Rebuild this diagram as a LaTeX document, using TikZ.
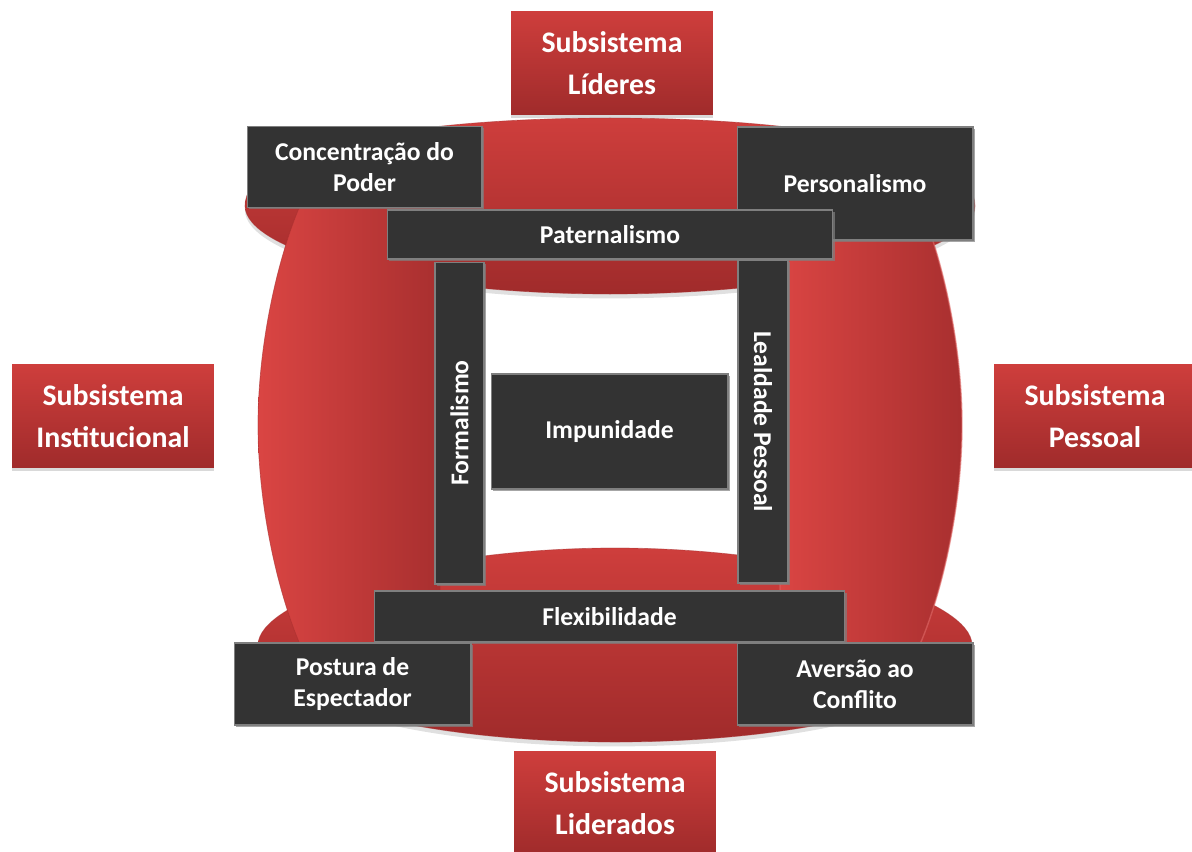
\documentclass[tikz,border=0pt]{standalone}
\usepackage{fontspec}
\setmainfont{Carlito}
\usepackage{tikz}
\usetikzlibrary{shadows}
\definecolor{boxgray}{HTML}{333333}
\definecolor{rimgray}{HTML}{7F7F7F}
\definecolor{redlight}{HTML}{DA4543}
\definecolor{reddark}{HTML}{A82F2F}
\definecolor{redtop}{HTML}{CE3E3C}
\definecolor{redbottom}{HTML}{A02B2B}
\definecolor{redrim}{HTML}{E06A68}
\tikzstyle{subsystem} = [rectangle, minimum width=4cm, minimum height=2.06cm, text width=3.8cm, align=center, top color=redtop, bottom color=redbottom, text=white, font=\fontsize{17}{23.9}\selectfont\bfseries, drop shadow={shadow xshift=0pt, shadow yshift=-2pt, opacity=0.3}]
\tikzstyle{trait} = [rectangle, fill=boxgray, draw=rimgray, line width=0.6pt, text=white, align=center, font=\fontsize{14.6}{17.6}\selectfont\bfseries, drop shadow={shadow xshift=1pt, shadow yshift=-1pt, opacity=0.7}]
\tikzstyle{hband} = [top color=redtop, bottom color=redbottom, draw=reddark, draw opacity=0.5, line width=0.4pt, preaction={fill=black, opacity=0.12, transform canvas={yshift=-2.5pt}}]
\tikzstyle{vband} = [left color=redlight, right color=reddark, draw=reddark, draw opacity=0.6, line width=0.4pt]

\begin{document}
\begin{tikzpicture}[x=0.02cm, y=-0.02cm]
    \clip (0,0) rectangle (1192,851);

    % red bands behind the boxes
    \path[hband] (245,206) .. controls (245,150) and (400,118) .. (610,118) .. controls (820,118) and (975,150) .. (975,206) .. controls (975,250) and (820,294) .. (610,294) .. controls (400,294) and (245,250) .. (245,206) -- cycle;

    \path[hband] (258,645) .. controls (258,600) and (420,548) .. (615,548) .. controls (810,548) and (972,600) .. (972,645) .. controls (972,700) and (810,742) .. (615,742) .. controls (420,742) and (258,700) .. (258,645) -- cycle;

    \path[vband] (258,425) .. controls (258,330) and (285,230) .. (310,185) -- (440,185) -- (440,665) -- (310,665) .. controls (285,620) and (258,520) .. (258,425) -- cycle;

    \path[vband, draw=redrim, line width=0.8pt] (962,425) .. controls (962,330) and (935,230) .. (910,185) -- (780,185) -- (780,665) -- (910,665) .. controls (935,620) and (962,520) .. (962,425) -- cycle;

    % subsystems
    \node (sub_lideres) [subsystem] at (612,63) {Subsistema\\Líderes};
    \node (sub_institucional) [subsystem] at (113,416) {Subsistema\\Institucional};
    \node (sub_pessoal) [subsystem] at (1095,416) {Subsistema\\Pessoal};
    \node (sub_liderados) [subsystem] at (615,803) {Subsistema\\Liderados};

    % traits
    \node (personalismo) [trait, minimum width=4.72cm, minimum height=2.26cm] at (855,183.5) {Personalismo};
    \node (concentracao) [trait, minimum width=4.7cm, minimum height=1.62cm] at (364.5,167) {Concentração do\\Poder};
    \node (paternalismo) [trait, minimum width=8.92cm, minimum height=0.98cm] at (610,234.5) {Paternalismo};
    \node (formalismo) [trait, rotate=90, minimum width=6.44cm, minimum height=0.98cm] at (459.5,423) {Formalismo};
    \node (lealdade) [trait, rotate=-90, minimum width=6.46cm, minimum height=1cm] at (763,421.5) {Lealdade Pessoal};
    \node (impunidade) [trait, minimum width=4.74cm, minimum height=2.3cm] at (609.5,431.5) {Impunidade};
    \node (flexibilidade) [trait, minimum width=9.42cm, minimum height=1.02cm] at (609.5,616.5) {Flexibilidade};
    \node (postura) [trait, minimum width=4.74cm, minimum height=1.64cm] at (352.5,684) {Postura de\\Espectador};
    \node (aversao) [trait, minimum width=4.72cm, minimum height=1.64cm] at (855,684) {Aversão ao\\Conflito};

\end{tikzpicture}
\end{document}
